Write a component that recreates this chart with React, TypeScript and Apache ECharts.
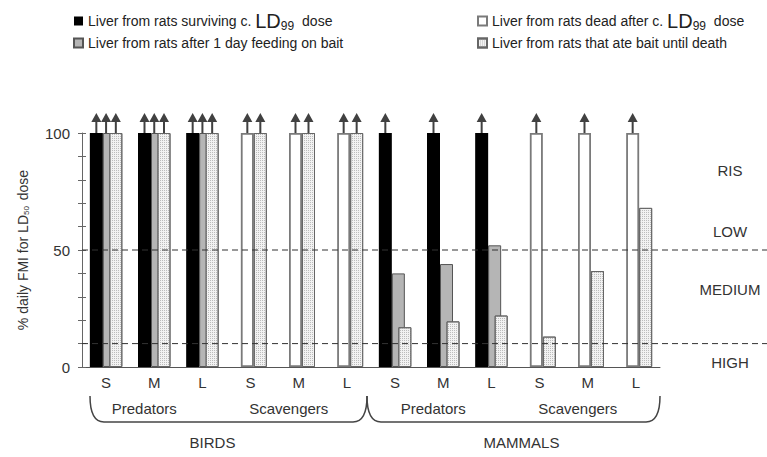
import React, { useEffect, useRef } from 'react';
import * as echarts from 'echarts';

const categories = ['S', 'M', 'L', 'S', 'M', 'L', 'S', 'M', 'L', 'S', 'M', 'L'];
const groupLabels = ['Predators', 'Scavengers', 'Predators', 'Scavengers'];
const classLabels = ['BIRDS', 'MAMMALS'];
const zoneLabels = ['RIS', 'LOW', 'MEDIUM', 'HIGH'];
const zoneLabelValues = [84, 58, 33, 2];
const thresholds = [50, 10];
const yTickLabels = [0, 50, 100];

const seriesNames = [
  'Liver from rats surviving c. LD99 dose',
  'Liver from rats dead after c. LD99 dose',
  'Liver from rats after 1 day feeding on bait',
  'Liver from rats that ate bait until death',
];
// % daily FMI (values above 100 are drawn at 100 with an arrow)
const survivingLD99 = [100, 100, 100, null, null, null, 100, 100, 100, null, null, null];
const deadLD99 = [null, null, null, 100, 100, 100, null, null, null, 100, 100, 100];
const oneDayBait = [100, 100, 100, null, null, null, 40, 44, 52, null, null, null];
const baitUntilDeath = [100, 100, 100, 100, 100, 100, 17, 19.5, 22, 13, 41, 68];
// 1 where the real value exceeds the plotted 100 %
const survivingOver = [1, 1, 1, 0, 0, 0, 1, 1, 1, 0, 0, 0];
const deadOver = [0, 0, 0, 1, 1, 1, 0, 0, 0, 1, 1, 1];
const oneDayOver = [1, 1, 1, 0, 0, 0, 0, 0, 0, 0, 0, 0];
const untilDeathOver = [1, 1, 1, 1, 1, 1, 0, 0, 0, 0, 0, 0];

const FONT = 'Liberation Sans, Arial, sans-serif';
const ARROW = 'path://M5,0L10,9L6,9L6,20L4,20L4,9L0,9Z';

export default function App() {
  const ref = useRef<HTMLDivElement>(null);
  useEffect(() => {
    const el = ref.current as HTMLDivElement;
    const chart = echarts.init(el, null, { renderer: 'svg' });

    const values = [survivingLD99, deadLD99, oneDayBait, baitUntilDeath];
    const overs = [survivingOver, deadOver, oneDayOver, untilDeathOver];
    const styles: any[] = [
      { color: '#000000', borderColor: '#000000', borderWidth: 0 },
      { color: '#ffffff', borderColor: '#7a7a7a', borderWidth: 1.8 },
      { color: '#b5b5b5', borderColor: '#555555', borderWidth: 1 },
      {
        color: '#f2f2f2', borderColor: '#666666', borderWidth: 1,
        decal: { symbol: 'rect', symbolSize: 1, color: '#bcbcbc', dashArrayX: [1, 1], dashArrayY: [1, 1], rotation: 0 },
      },
    ];
    const zs = [5, 2, 3, 4];
    const arrowOffsets = [-9.75, -3.25, 0, 9.75];

    const barSeries = values.map((arr, k) => ({
      name: seriesNames[k],
      type: 'bar',
      barWidth: 13,
      barGap: '-50%',
      z: zs[k],
      itemStyle: styles[k],
      data: arr.map((v) => (v == null ? '-' : v)),
    }));
    const arrowSeries = overs.map((arr, k) => ({
      name: 'arrow' + k,
      type: 'scatter',
      z: 10,
      symbol: ARROW,
      symbolSize: [10, 20],
      symbolOffset: [arrowOffsets[k], -10],
      itemStyle: { color: '#111111' },
      silent: true,
      data: arr.map((o) => (o ? 100 : '-')),
    }));

    const fmt = (n: string) => {
      const parts = n.split('LD99');
      return parts.length < 2 ? n : `${parts[0]}{ld|LD}{sub|99}${parts[1]}`;
    };
    const legendText = {
      fontFamily: FONT, fontSize: 14, color: '#222',
      rich: {
        ld: { fontFamily: FONT, fontSize: 20, color: '#222' },
        sub: { fontFamily: FONT, fontSize: 12, color: '#222', verticalAlign: 'bottom', padding: [10, 4, 0, 0] },
      },
    };
    const legendCommon = {
      orient: 'vertical', top: 6, itemGap: 4, itemWidth: 9, itemHeight: 9, icon: 'rect',
      formatter: fmt, textStyle: legendText, selectedMode: false,
    };

    const option: any = {
      animation: false,
      backgroundColor: '#ffffff',
      grid: { left: 82, right: 107, top: 133, bottom: 90 },
      legend: [
        { ...legendCommon, left: 68, data: [seriesNames[0], seriesNames[2]] },
        { ...legendCommon, left: 472, data: [seriesNames[1], seriesNames[3]] },
      ],
      xAxis: {
        type: 'category',
        data: categories,
        axisLine: { lineStyle: { color: '#555', width: 1 } },
        axisTick: { length: 4, lineStyle: { color: '#555' } },
        axisLabel: { fontFamily: FONT, fontSize: 15, color: '#333', margin: 8 },
      },
      yAxis: [
        {
          type: 'value', min: 0, max: 100, interval: 10,
          name: '% daily FMI for LD{sub|50} dose',
          nameLocation: 'middle', nameRotate: 90, nameGap: 52,
          nameTextStyle: {
            fontFamily: FONT, fontSize: 14, color: '#333',
            rich: { sub: { fontFamily: FONT, fontSize: 8, color: '#333', verticalAlign: 'bottom', padding: [6, 2, 0, 0] } },
          },
          axisLine: { show: true, lineStyle: { color: '#666', width: 1 } },
          axisTick: { show: true, length: 4, lineStyle: { color: '#666' } },
          splitLine: { show: false },
          axisLabel: {
            fontFamily: FONT, fontSize: 15, color: '#333', margin: 12,
            formatter: (v: number) => (yTickLabels.indexOf(v) >= 0 ? String(v) : ''),
          },
        },
        {
          type: 'value', min: 0, max: 100, interval: 10, position: 'left',
          axisLine: { show: false },
          axisTick: { show: true, inside: true, length: 4, lineStyle: { color: '#666' } },
          axisLabel: { show: false },
          splitLine: { show: false },
        },
      ],
      series: [...barSeries, ...arrowSeries],
    };
    chart.setOption(option);

    const px = (i: number) => chart.convertToPixel({ xAxisIndex: 0 }, i) as number;
    const py = (v: number) => chart.convertToPixel({ yAxisIndex: 0 }, v) as number;
    const band = px(1) - px(0);
    const xLeft = px(0) - band / 2;
    const xRight = px(categories.length - 1) + band / 2;
    const y0 = py(0);

    const graphics: any[] = [];
    thresholds.forEach((t) => {
      graphics.push({
        type: 'line', z: 100, silent: true,
        shape: { x1: xLeft, y1: py(t), x2: 767, y2: py(t) },
        style: { stroke: '#333', lineWidth: 1, lineDash: [6, 4] },
      });
    });
    zoneLabels.forEach((lab, i) => {
      graphics.push({
        type: 'text', z: 100, silent: true, x: 730, y: py(zoneLabelValues[i]),
        style: { text: lab, fontFamily: FONT, fontSize: 15, fill: '#333', align: 'center', verticalAlign: 'middle' },
      });
    });
    groupLabels.forEach((lab, g) => {
      const cx = px(g * 3 + 1) - 10;
      graphics.push({
        type: 'text', z: 100, silent: true, x: cx, y: y0 + 41,
        style: { text: lab, fontFamily: FONT, fontSize: 15, fill: '#333', align: 'center', verticalAlign: 'middle' },
      });
    });
    const mid = px(5) + band / 2 - 4;
    const braceSpans = [[px(0) - band / 2 + 8, mid], [mid, xRight]];
    const yTop = y0 + 29;
    const yBot = y0 + 55;
    braceSpans.forEach(([a, b], i) => {
      const st = { stroke: '#444', lineWidth: 1.5, fill: null };
      graphics.push({ type: 'bezierCurve', z: 100, silent: true, shape: { x1: a, y1: yTop, cpx1: a, cpy1: yBot, x2: a + 14, y2: yBot }, style: st });
      graphics.push({ type: 'line', z: 100, silent: true, shape: { x1: a + 14, y1: yBot, x2: b - 14, y2: yBot }, style: st });
      graphics.push({ type: 'bezierCurve', z: 100, silent: true, shape: { x1: b - 14, y1: yBot, cpx1: b, cpy1: yBot, x2: b, y2: yTop }, style: st });
      graphics.push({
        type: 'text', z: 100, silent: true, x: (a + b) / 2 + (i === 0 ? -16 : 8), y: y0 + 75,
        style: { text: classLabels[i], fontFamily: FONT, fontSize: 15, fill: '#333', align: 'center', verticalAlign: 'middle' },
      });
    });
    chart.setOption({ graphic: graphics });

    return () => chart.dispose();
  }, []);
  return <div ref={ref} style={{ position: 'absolute', left: 0, top: 0, width: 767, height: 457 }} />;
}
